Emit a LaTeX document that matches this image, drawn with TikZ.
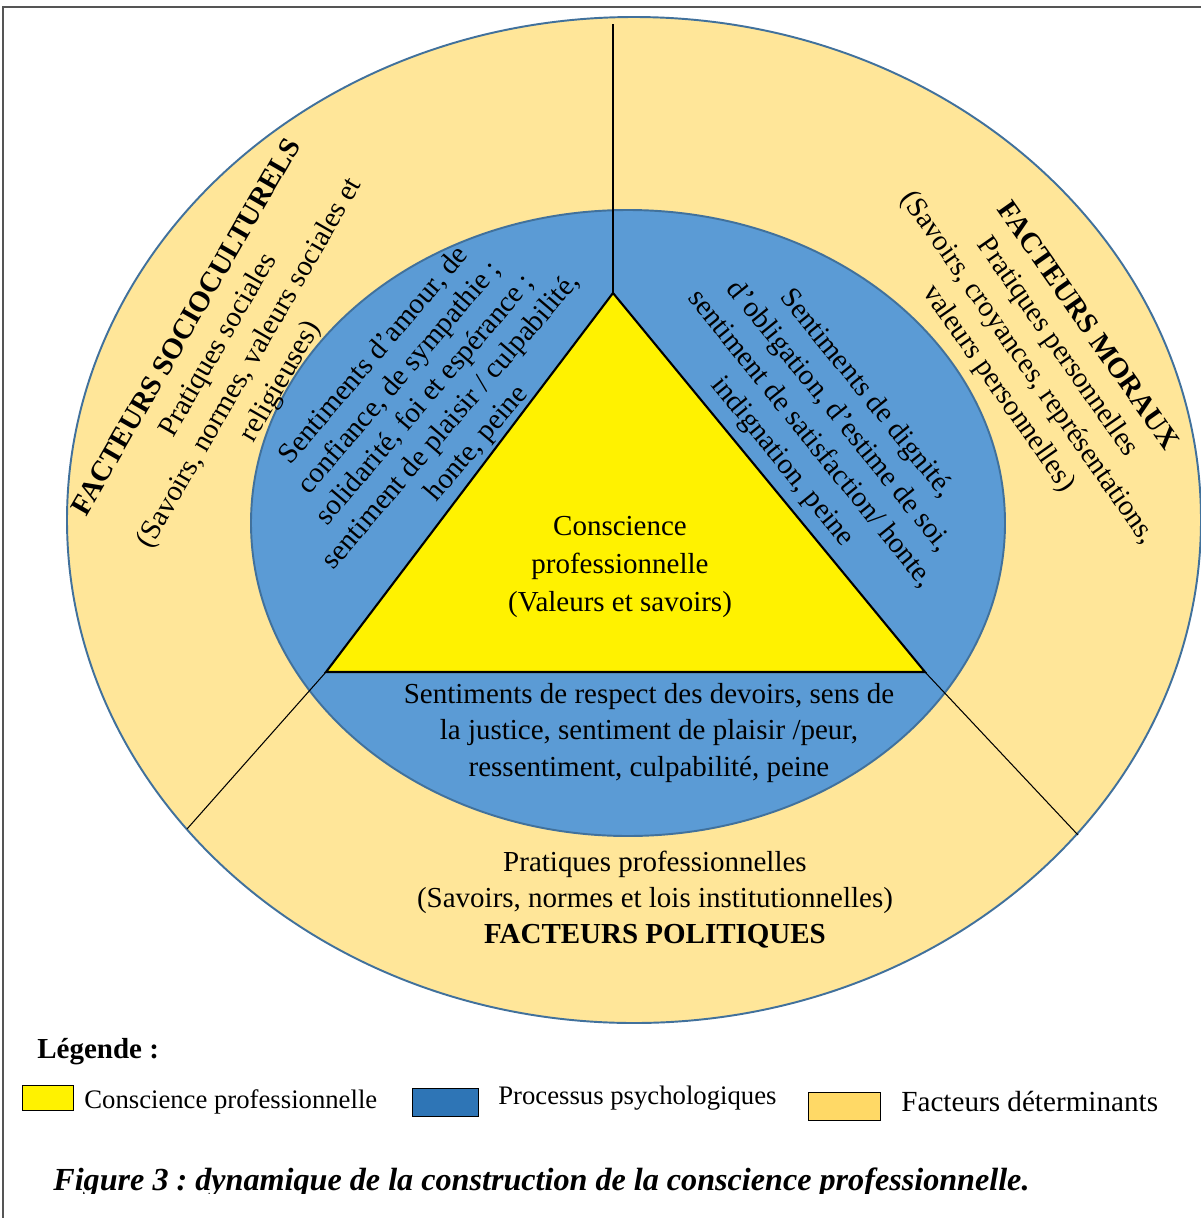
\documentclass[tikz,border=0pt]{standalone}
\usepackage{fontspec}
\setmainfont{Liberation Serif}
\frenchspacing
\definecolor{outerfill}{HTML}{FFE699}
\definecolor{innerfill}{HTML}{5B9BD5}
\definecolor{ringline}{HTML}{41719C}
\definecolor{legblue}{HTML}{2E75B6}
\definecolor{leggold}{HTML}{FFD966}
\definecolor{framegray}{HTML}{555555}
\begin{document}
\begin{tikzpicture}[x=0.02cm,y=-0.02cm,
  txt/.style={font=\fontsize{16.5}{20.5}\selectfont, align=center, inner sep=0pt},
  txtl/.style={font=\fontsize{16.5}{19.2}\selectfont, align=center, inner sep=0pt},
  legtxt/.style={font=\fontsize{15.2}{18}\selectfont, anchor=base west, inner sep=0pt},
  legbox/.style={draw=black, line width=0.8pt, inner sep=0pt, anchor=north west},
  divider/.style={draw=black, line width=0.6pt},
  ring/.style={draw=ringline, line width=1.1pt}]
\useasboundingbox (0,0) rectangle (1201,1218);
\fill[white] (0,0) rectangle (1201,1218);
% frame
\draw[framegray, line width=1.4pt] (3,1218) -- (3,7) -- (1201,7);
% rings
\path[ring, fill=outerfill] (634,520) ellipse [x radius=567, y radius=503];
\path[ring, fill=innerfill] (628,523) ellipse [x radius=377, y radius=313];
% coordinates
\coordinate (A) at (613,293);
\coordinate (BL) at (326,672);
\coordinate (BR) at (925,672);
\coordinate (T) at (613,24);
\coordinate (L) at (187,829);
\coordinate (R) at (1078,835);
% dividers
\draw[divider] (T) -- (A);
\draw[divider] (L) -- (BL);
\draw[divider] (R) -- (BR);
% triangle
\draw[black, line width=1.2pt, fill=yellow, line join=miter] (A) -- (BL) -- (BR) -- cycle;
% texts
\node[txt, font=\fontsize{16.5}{21.6}\selectfont] (core) at (620,567) {Conscience\\professionnelle\\(Valeurs et savoirs)};
\node[txt] (psyb) at (649,733) {Sentiments de respect des devoirs, sens de\\la justice, sentiment de plaisir /peur,\\ressentiment, culpabilité, peine};
\node[txt] (polit) at (655,900) {Pratiques professionnelles\\(Savoirs, normes et lois institutionnelles)\\\textbf{FACTEURS POLITIQUES}};
\node[txt, rotate=60] (socio) at (235,355) {\textbf{FACTEURS SOCIOCULTURELS}\\Pratiques sociales\\(Savoirs, normes, valeurs sociales et\\religieuses)};
\node[txt, rotate=-55] (moraux) at (1042,358) {\textbf{FACTEURS MORAUX}\\Pratiques personnelles\\(Savoirs, croyances, représentations,\\valeurs personnelles)};
\node[txtl, rotate=49.5] (psyl) at (426,400) {Sentiments d’amour, de\\confiance, de sympathie ;\\solidarité, foi et espérance ;\\sentiment de plaisir / culpabilité,\\honte, peine};
\node[txt, rotate=-51] (psyr) at (824,428) {Sentiments de dignité,\\d’obligation, d’estime de soi,\\sentiment de satisfaction/ honte,\\indignation, peine};
% legend
\node[font=\fontsize{16.5}{20}\selectfont\bfseries, anchor=base west, inner sep=0pt] (legtitle) at (37,1058) {Légende :};
\node[legbox, fill=yellow, minimum width=1.02cm, minimum height=0.5cm] (lk1) at (22,1085) {};
\node[legtxt] (lt1) at (84,1108) {Conscience professionnelle};
\node[legbox, fill=legblue, minimum width=1.32cm, minimum height=0.56cm] (lk2) at (412,1088) {};
\node[legtxt] (lt2) at (498,1104) {Processus psychologiques};
\node[legbox, fill=leggold, minimum width=1.44cm, minimum height=0.56cm] (lk3) at (808,1092) {};
\node[legtxt, font=\fontsize{16.6}{18}\selectfont] (lt3) at (901,1111) {Facteurs déterminants};
% caption (cut at the bottom as in the reference)
\begin{scope}
\clip (0,0) rectangle (1201,1193);
\node[font=\fontsize{18.3}{22}\selectfont\bfseries\itshape, anchor=base west, inner sep=0pt] (caption) at (53,1190) {Figure 3 : dynamique de la construction de la conscience professionnelle.};
\end{scope}
\end{tikzpicture}
\end{document}
